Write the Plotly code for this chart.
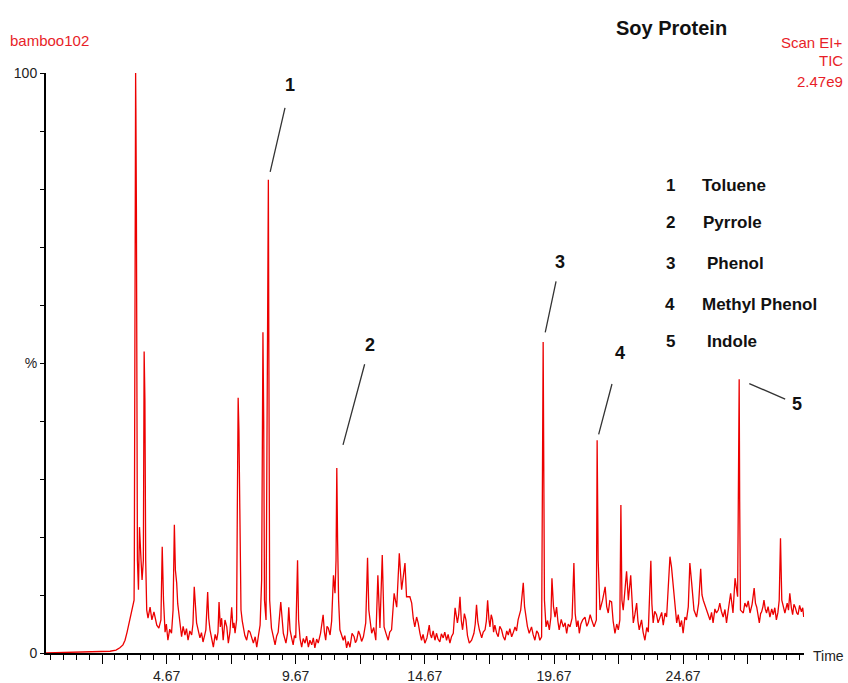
import plotly.graph_objects as go

# ---------------- data ----------------
# retention time (min) and relative intensity (%), line by line in parallel
time_min = [
    0.00, 1.32, 2.28, 2.48, 2.71, 2.86, 2.98, 3.06, 3.14, 3.21, 3.29, 3.37,
    3.41, 3.42, 3.45, 3.47, 3.48, 3.50, 3.52, 3.54, 3.58, 3.62, 3.68, 3.72,
    3.77, 3.80, 3.83, 3.86, 3.90, 3.95, 4.03, 4.10, 4.18, 4.29, 4.37, 4.45,
    4.50, 4.55, 4.61, 4.66, 4.72, 4.79, 4.86, 4.92, 4.97, 5.01, 5.06, 5.10,
    5.15, 5.20, 5.25, 5.31, 5.38, 5.44, 5.50, 5.57, 5.64, 5.69, 5.74, 5.83,
    5.89, 5.96, 6.02, 6.08, 6.14, 6.19, 6.26, 6.30, 6.35, 6.42, 6.48, 6.55,
    6.61, 6.66, 6.70, 6.75, 6.80, 6.86, 6.93, 7.00, 7.06, 7.12, 7.19, 7.24,
    7.28, 7.32, 7.38, 7.41, 7.44, 7.47, 7.51, 7.55, 7.60, 7.64, 7.70, 7.77,
    7.84, 7.90, 7.96, 8.03, 8.10, 8.16, 8.23, 8.29, 8.35, 8.40, 8.43, 8.46,
    8.52, 8.57, 8.61, 8.63, 8.66, 8.73, 8.80, 8.87, 8.93, 8.99, 9.09, 9.14,
    9.19, 9.29, 9.35, 9.40, 9.45, 9.51, 9.57, 9.62, 9.67, 9.74, 9.78, 9.84,
    9.90, 9.96, 10.03, 10.09, 10.16, 10.22, 10.29, 10.35, 10.41, 10.48, 10.54, 10.63,
    10.73, 10.78, 10.83, 10.88, 10.93, 11.00, 11.06, 11.13, 11.19, 11.23, 11.26, 11.29,
    11.33, 11.38, 11.44, 11.51, 11.57, 11.64, 11.70, 11.77, 11.85, 11.93, 11.98, 12.03,
    12.10, 12.16, 12.22, 12.29, 12.38, 12.45, 12.50, 12.61, 12.69, 12.77, 12.85, 12.93,
    13.02, 13.09, 13.17, 13.25, 13.31, 13.38, 13.48, 13.58, 13.68, 13.77, 13.90, 13.96,
    14.09, 14.16, 14.22, 14.28, 14.35, 14.41, 14.48, 14.54, 14.60, 14.67, 14.75, 14.84,
    14.88, 14.93, 14.99, 15.06, 15.12, 15.18, 15.25, 15.31, 15.38, 15.44, 15.51, 15.57,
    15.64, 15.70, 15.77, 15.84, 15.93, 15.98, 16.03, 16.08, 16.13, 16.20, 16.26, 16.32,
    16.39, 16.48, 16.57, 16.62, 16.67, 16.72, 16.78, 16.87, 16.93, 17.00, 17.05, 17.10,
    17.15, 17.19, 17.24, 17.29, 17.33, 17.38, 17.45, 17.51, 17.57, 17.64, 17.70, 17.77,
    17.84, 17.90, 17.96, 18.03, 18.10, 18.16, 18.22, 18.28, 18.38, 18.48, 18.53, 18.58,
    18.64, 18.71, 18.80, 18.86, 18.93, 19.00, 19.06, 19.12, 19.19, 19.25, 19.30, 19.36,
    19.42, 19.49, 19.55, 19.59, 19.65, 19.71, 19.77, 19.82, 19.87, 19.95, 20.03, 20.10,
    20.16, 20.22, 20.29, 20.37, 20.44, 20.49, 20.55, 20.60, 20.65, 20.71, 20.78, 20.87,
    20.94, 21.00, 21.07, 21.13, 21.22, 21.31, 21.34, 21.38, 21.45, 21.55, 21.65, 21.71,
    21.77, 21.83, 21.90, 21.96, 22.03, 22.10, 22.16, 22.22, 22.26, 22.30, 22.35, 22.48,
    22.55, 22.64, 22.74, 22.80, 22.87, 22.92, 22.97, 23.06, 23.12, 23.19, 23.26, 23.32,
    23.42, 23.46, 23.51, 23.57, 23.64, 23.70, 23.77, 23.84, 23.90, 23.97, 24.03, 24.10,
    24.16, 24.22, 24.29, 24.42, 24.48, 24.55, 24.61, 24.67, 24.74, 24.80, 24.87, 24.93,
    25.00, 25.09, 25.19, 25.27, 25.35, 25.40, 25.45, 25.52, 25.58, 25.64, 25.71, 25.77,
    25.83, 25.90, 25.96, 26.03, 26.09, 26.15, 26.22, 26.29, 26.35, 26.43, 26.51, 26.60,
    26.68, 26.78, 26.84, 26.86, 26.89, 27.00, 27.06, 27.13, 27.19, 27.26, 27.34, 27.42,
    27.47, 27.52, 27.57, 27.62, 27.67, 27.71, 27.76, 27.80, 27.85, 27.90, 27.96, 28.03,
    28.10, 28.16, 28.22, 28.28, 28.34, 28.39, 28.44, 28.49, 28.61, 28.66, 28.70, 28.75,
    28.80, 28.86, 28.91, 28.96, 29.01, 29.07, 29.12, 29.18, 29.25, 29.30, 29.34,
]
intensity_pct = [
    0.0, 0.1, 0.2, 0.3, 0.5, 0.9, 1.4, 2.2, 3.6, 5.0, 6.4, 7.8,
    9.1, 16.0, 62.0, 100.0, 94.0, 77.0, 52.0, 16.0, 10.9, 21.7, 16.0, 12.6,
    16.0, 52.0, 43.6, 16.0, 7.4, 6.0, 7.9, 5.7, 7.1, 4.8, 4.3, 5.7,
    18.3, 9.1, 3.6, 5.0, 2.2, 4.1, 3.4, 7.4, 22.1, 14.3, 12.1, 8.5,
    6.6, 4.0, 2.8, 4.6, 3.1, 4.2, 2.2, 3.8, 3.1, 5.0, 11.4, 5.2,
    3.9, 2.6, 3.5, 1.9, 3.0, 4.0, 10.5, 6.0, 4.0, 2.5, 1.0, 3.2,
    2.2, 3.6, 8.8, 4.5, 6.0, 2.2, 5.7, 4.5, 1.7, 3.5, 7.9, 4.3,
    5.2, 3.4, 5.7, 26.0, 44.0, 38.4, 14.3, 7.4, 5.5, 4.5, 3.0, 2.2,
    3.9, 3.6, 2.5, 1.7, 2.8, 1.0, 3.1, 4.8, 12.6, 55.3, 40.0, 9.1,
    5.7, 39.3, 81.6, 50.5, 9.1, 4.3, 2.6, 1.4, 2.9, 3.6, 8.8, 5.7,
    3.4, 1.7, 3.3, 7.9, 4.0, 2.6, 1.4, 3.0, 2.6, 16.0, 5.7, 2.4,
    1.0, 2.5, 1.7, 2.9, 1.0, 2.2, 1.4, 2.6, 0.9, 2.4, 1.7, 3.4,
    6.6, 3.6, 2.2, 4.6, 4.3, 3.1, 5.5, 13.4, 10.3, 16.0, 31.9, 19.5,
    9.1, 4.0, 3.1, 2.2, 3.0, 0.9, 2.0, 1.0, 3.4, 2.8, 1.8, 2.2,
    3.8, 3.1, 2.0, 2.8, 5.2, 16.4, 7.4, 3.4, 4.4, 2.2, 13.4, 4.3,
    16.9, 4.5, 3.3, 2.2, 3.6, 4.0, 10.3, 7.9, 17.2, 10.9, 15.5, 9.7,
    9.7, 8.6, 6.0, 4.5, 6.2, 5.2, 3.4, 2.2, 3.2, 1.7, 2.6, 4.8,
    3.2, 2.6, 3.8, 2.2, 3.4, 2.4, 1.9, 3.3, 2.6, 3.6, 2.2, 3.2,
    1.7, 2.8, 3.4, 7.8, 5.2, 6.6, 9.7, 5.6, 4.0, 6.8, 5.7, 3.0,
    1.7, 2.2, 3.4, 5.0, 8.3, 5.4, 4.0, 2.6, 3.6, 4.0, 5.5, 9.1,
    5.8, 4.5, 6.6, 5.7, 3.6, 4.8, 3.4, 2.8, 4.6, 4.0, 2.9, 2.2,
    3.8, 3.1, 4.2, 2.8, 3.6, 4.5, 3.8, 5.7, 7.4, 12.1, 8.0, 6.2,
    4.6, 3.4, 4.5, 3.2, 2.2, 3.8, 3.4, 2.2, 2.8, 53.6, 9.1, 4.5,
    5.6, 4.0, 6.2, 12.9, 8.0, 6.2, 7.9, 5.5, 4.0, 5.8, 4.5, 5.2,
    3.4, 5.0, 4.5, 6.0, 15.5, 6.8, 4.5, 5.6, 3.4, 5.0, 5.7, 6.2,
    4.6, 5.2, 6.6, 5.7, 4.5, 5.7, 36.7, 16.0, 7.4, 9.1, 11.4, 8.0,
    6.9, 9.0, 8.8, 5.5, 3.4, 5.0, 4.0, 5.7, 25.5, 9.1, 7.4, 14.1,
    9.1, 13.4, 5.2, 6.6, 8.6, 5.5, 4.0, 5.7, 3.6, 2.2, 4.4, 3.6,
    15.9, 8.5, 5.2, 7.2, 6.6, 5.2, 6.2, 7.0, 4.8, 6.9, 6.2, 10.9,
    16.6, 14.8, 11.4, 5.2, 6.6, 4.5, 5.6, 3.4, 6.2, 5.7, 8.0, 15.5,
    12.1, 7.4, 6.2, 8.5, 14.5, 10.0, 9.1, 8.2, 7.4, 6.4, 5.7, 7.0,
    5.2, 7.6, 6.9, 7.4, 8.6, 7.2, 6.2, 7.5, 5.2, 7.8, 10.3, 6.9,
    12.9, 9.7, 47.2, 26.1, 7.4, 6.9, 8.6, 7.9, 9.0, 6.9, 8.4, 11.2,
    8.6, 7.9, 6.4, 5.2, 6.8, 7.1, 8.0, 9.1, 7.6, 6.9, 8.0, 6.2,
    7.6, 6.6, 7.8, 5.7, 7.0, 9.1, 19.8, 9.1, 6.9, 8.0, 8.6, 7.4,
    10.3, 7.8, 6.6, 8.4, 7.9, 6.9, 6.6, 8.2, 7.1, 7.8, 6.2,
]
assert len(time_min) == len(intensity_pct)

peak_numbers = ["1", "2", "3", "4", "5"]
peak_times = [8.61, 11.26, 19.25, 21.34, 26.84]
compound_names = ["Toluene", "Pyrrole", "Phenol", "Methyl Phenol", "Indole"]

x_major_ticks = [2.17, 4.67, 7.17, 9.67, 12.17, 14.67, 17.17, 19.67, 22.17, 24.67, 27.17]
x_labeled = ["4.67", "9.67", "14.67", "19.67", "24.67"]
y_tick_vals = [0, 50, 100]
y_tick_text = ["0", "%", "100"]

# ---------------- figure ----------------
FONT = "Liberation Sans, Arial, sans-serif"
RED_TEXT = "rgb(232,30,40)"

W, H = 848, 683
L, R, T, B = 46, 44, 73, 30
pw, ph = W - L - R, H - T - B


def px(xp):  # window pixel -> paper x
    return (xp - L) / pw


def py(yp):  # window pixel -> paper y
    return (H - B - yp) / ph


fig = go.Figure()
fig.add_trace(go.Scatter(
    x=time_min, y=intensity_pct, mode="lines",
    line=dict(color="rgb(236,0,0)", width=1.3),
    hoverinfo="skip", showlegend=False,
))

annotations = []
# peak number labels with leader lines, anchored on the data peaks
label_offsets = [(22, -95), (33, -123), (17, -80), (23, -87), (58, 25)]
start_gap = [12, 8, 8, 20, 6]
end_gap = [8, 24, 10, 6, 11]
for num, t, (ax, ay), sg, eg in zip(peak_numbers, peak_times, label_offsets, start_gap, end_gap):
    idx = min(range(len(time_min)), key=lambda i: abs(time_min[i] - t))
    annotations.append(dict(
        x=time_min[idx], y=intensity_pct[idx], xref="x", yref="y",
        text=num, showarrow=True, arrowhead=0, arrowwidth=1.3, arrowcolor="#333",
        ax=ax, ay=ay, standoff=eg, startstandoff=sg,
        font=dict(family=FONT, size=18, color="#111", weight="bold"),
    ))

# compound list
legend_y = [185, 223, 263, 304, 341]
name_x = [700, 701, 705, 700, 705]
for num, name, ly, nx in zip(peak_numbers, compound_names, legend_y, name_x):
    annotations.append(dict(x=px(670), y=py(ly), xref="paper", yref="paper", text=num,
                            showarrow=False, xanchor="center", yanchor="middle",
                            font=dict(family=FONT, size=17, color="#111", weight="bold")))
    annotations.append(dict(x=px(nx), y=py(ly), xref="paper", yref="paper", text=name,
                            showarrow=False, xanchor="left", yanchor="middle",
                            font=dict(family=FONT, size=17, color="#111", weight="bold")))

# header texts
annotations += [
    dict(x=px(8), y=py(41), xref="paper", yref="paper", text="bamboo102", showarrow=False,
         xanchor="left", yanchor="middle", font=dict(family=FONT, size=15, color=RED_TEXT)),
    dict(x=px(671), y=py(28), xref="paper", yref="paper", text="Soy Protein", showarrow=False,
         xanchor="center", yanchor="middle", font=dict(family=FONT, size=20, color="#111", weight="bold")),
    dict(x=px(845), y=py(42), xref="paper", yref="paper", text="Scan EI+", showarrow=False,
         xanchor="right", yanchor="middle", font=dict(family=FONT, size=15, color=RED_TEXT)),
    dict(x=px(845), y=py(61), xref="paper", yref="paper", text="TIC", showarrow=False,
         xanchor="right", yanchor="middle", font=dict(family=FONT, size=15, color=RED_TEXT)),
    dict(x=px(845), y=py(81), xref="paper", yref="paper", text="2.47e9", showarrow=False,
         xanchor="right", yanchor="middle", font=dict(family=FONT, size=15, color=RED_TEXT)),
    dict(x=px(811), y=py(656), xref="paper", yref="paper", text="Time", showarrow=False,
         xanchor="left", yanchor="middle", font=dict(family=FONT, size=14, color="#222")),
]

x_tick_text = [v if v in x_labeled else "" for v in [f"{t:.2f}" for t in x_major_ticks]]

fig.update_layout(
    width=W, height=H,
    margin=dict(l=L, r=R, t=T, b=B, autoexpand=False),
    plot_bgcolor="white", paper_bgcolor="white",
    showlegend=False,
    annotations=annotations,
    xaxis=dict(
        range=[0, 29.35], showline=True, linecolor="black", linewidth=2,
        showgrid=False, zeroline=False, automargin=False,
        ticks="outside", ticklen=9, tickwidth=1, tickcolor="black",
        tickvals=x_major_ticks, ticktext=x_tick_text,
        tickfont=dict(family=FONT, size=14, color="#222"),
        minor=dict(tick0=0.17, dtick=0.5, ticks="outside", ticklen=5, tickwidth=1,
                   tickcolor="black", showgrid=False),
    ),
    yaxis=dict(
        range=[0, 100], showline=True, linecolor="black", linewidth=2,
        showgrid=False, zeroline=False, automargin=False,
        ticks="outside", ticklen=4, tickwidth=1, tickcolor="black",
        tickvals=y_tick_vals, ticktext=y_tick_text,
        tickfont=dict(family=FONT, size=14, color="#222"),
        minor=dict(tick0=0, dtick=10, ticks="outside", ticklen=4, tickwidth=1,
                   tickcolor="black", showgrid=False),
    ),
)

# remove the default 8px page margin so the figure fills the 848x683 window exactly
fig.write_html(
    "out.html",
    config={"displayModeBar": False},
    post_script="document.body.style.margin='0';document.body.style.overflow='hidden';",
)
